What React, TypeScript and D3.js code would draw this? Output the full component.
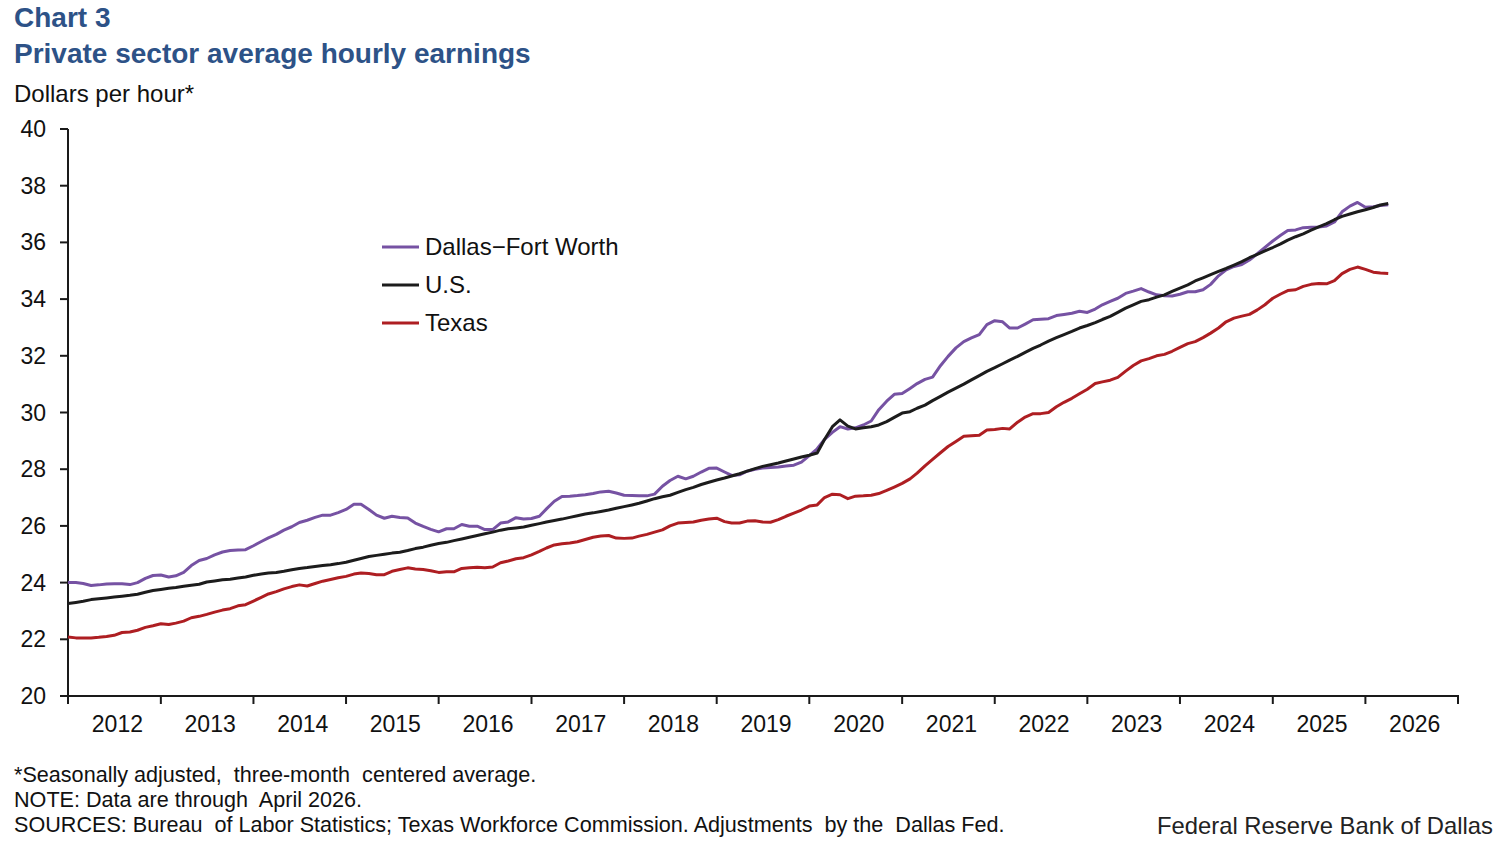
import React from 'react';
import * as d3 from 'd3';

// Monthly observations, January 2012 through April 2026
const FIRST_MONTH = new Date(2012, 0, 1);
const LAST_MONTH = new Date(2026, 3, 1);
const months = d3.timeMonth.range(FIRST_MONTH, d3.timeMonth.offset(LAST_MONTH, 1));

const dfw = [
  24.0, 24.0, 23.97, 23.9, 23.92, 23.95, 23.96, 23.96, 23.93, 24.0, 24.15, 24.25,
  24.27, 24.2, 24.24, 24.36, 24.6, 24.78, 24.85, 24.98, 25.08, 25.13, 25.15, 25.16,
  25.3, 25.45, 25.58, 25.7, 25.85, 25.97, 26.12, 26.2, 26.3, 26.38, 26.38, 26.47,
  26.58, 26.76, 26.76, 26.58, 26.38, 26.27, 26.34, 26.3, 26.28, 26.1, 25.98, 25.88,
  25.79, 25.9, 25.9, 26.05, 25.99, 25.99, 25.87, 25.87, 26.1, 26.14, 26.29, 26.24,
  26.26, 26.34, 26.6, 26.87, 27.04, 27.05, 27.07, 27.1, 27.14, 27.2, 27.22, 27.16,
  27.08, 27.07, 27.06, 27.06, 27.12, 27.4, 27.6, 27.75, 27.66, 27.75, 27.9, 28.03,
  28.04, 27.9, 27.78, 27.8, 27.93, 28.0, 28.04, 28.06, 28.08, 28.11, 28.14, 28.25,
  28.48, 28.72, 29.05, 29.3, 29.5, 29.42, 29.46, 29.56, 29.7, 30.1, 30.4, 30.64,
  30.67, 30.85, 31.02, 31.17, 31.25, 31.65, 31.98, 32.28, 32.5, 32.63, 32.75, 33.1,
  33.24, 33.2, 32.98, 32.98, 33.12, 33.27, 33.29, 33.31, 33.42, 33.46, 33.5, 33.57,
  33.53, 33.65, 33.8, 33.92, 34.03, 34.2, 34.28, 34.37, 34.25, 34.15, 34.12, 34.11,
  34.17, 34.26, 34.26, 34.33, 34.52, 34.82, 35.03, 35.15, 35.22, 35.38, 35.6, 35.82,
  36.05, 36.25, 36.42, 36.44, 36.52, 36.53, 36.54, 36.58, 36.72, 37.08, 37.28, 37.41,
  37.24, 37.26, 37.3, 37.33,
];

const us = [
  23.26, 23.3, 23.34, 23.4, 23.43, 23.46, 23.49, 23.52, 23.55, 23.59, 23.66, 23.72,
  23.76, 23.8, 23.83, 23.87, 23.91, 23.94, 24.02, 24.06, 24.1, 24.12, 24.16, 24.2,
  24.26, 24.3, 24.34, 24.36, 24.4, 24.45, 24.5, 24.53, 24.57, 24.6, 24.63, 24.67,
  24.72, 24.79, 24.85, 24.92, 24.96, 25.0, 25.04, 25.07, 25.13, 25.2, 25.25, 25.32,
  25.38, 25.42, 25.48, 25.54, 25.6, 25.66, 25.72, 25.78, 25.85, 25.9, 25.93, 25.96,
  26.02, 26.08, 26.14, 26.19, 26.24, 26.3, 26.36, 26.42, 26.46, 26.51, 26.56, 26.62,
  26.68, 26.74, 26.8, 26.88, 26.96, 27.03, 27.08, 27.18, 27.28, 27.36, 27.46, 27.54,
  27.62, 27.69, 27.76, 27.84, 27.93, 28.02, 28.1, 28.16, 28.22, 28.29, 28.36, 28.43,
  28.49, 28.57, 29.05, 29.5, 29.74, 29.52, 29.42, 29.46, 29.5, 29.56, 29.68, 29.83,
  29.98, 30.03, 30.15, 30.26, 30.42, 30.57, 30.72, 30.86, 31.0, 31.15, 31.3, 31.45,
  31.58, 31.72, 31.85, 31.98, 32.12, 32.26, 32.38, 32.52, 32.64, 32.75, 32.86, 32.98,
  33.07, 33.17, 33.28, 33.39, 33.53, 33.68, 33.8, 33.92, 33.98, 34.07, 34.15, 34.27,
  34.39, 34.5, 34.64, 34.75, 34.86, 34.98, 35.08, 35.2, 35.32, 35.46, 35.58, 35.7,
  35.82, 35.95, 36.08, 36.2, 36.3, 36.43, 36.55, 36.66, 36.8, 36.92, 37.0, 37.08,
  37.15, 37.23, 37.32, 37.37,
];

const texas = [
  22.08, 22.05, 22.05, 22.05, 22.07, 22.1, 22.14, 22.24, 22.26, 22.32, 22.42, 22.48,
  22.55, 22.52, 22.57, 22.64, 22.76, 22.81, 22.88, 22.96, 23.03, 23.08, 23.18, 23.22,
  23.35, 23.48, 23.6, 23.68, 23.78, 23.86, 23.92, 23.88, 23.97, 24.05, 24.11, 24.17,
  24.22, 24.3, 24.34, 24.32, 24.28, 24.28, 24.4, 24.46, 24.52, 24.48, 24.46, 24.42,
  24.36, 24.38, 24.38, 24.5, 24.52, 24.54, 24.52, 24.55, 24.7, 24.76, 24.84, 24.88,
  24.98, 25.1, 25.22, 25.33, 25.37, 25.4, 25.44, 25.52, 25.6, 25.64, 25.66, 25.57,
  25.56, 25.57, 25.64, 25.7, 25.78, 25.86, 26.0, 26.1, 26.12, 26.14, 26.2, 26.24,
  26.27, 26.15, 26.1, 26.1, 26.17, 26.18, 26.14, 26.13, 26.22, 26.34, 26.45, 26.56,
  26.7, 26.74, 27.0, 27.12, 27.1, 26.96, 27.05, 27.06, 27.08, 27.14, 27.25, 27.37,
  27.5, 27.66, 27.86, 28.12, 28.35, 28.58, 28.8, 28.98, 29.16, 29.18, 29.2, 29.38,
  29.4, 29.44, 29.42, 29.66, 29.84, 29.96, 29.96, 30.0, 30.2, 30.36, 30.5, 30.66,
  30.82, 31.02, 31.08, 31.14, 31.24, 31.46, 31.66, 31.82, 31.9, 32.0, 32.05, 32.16,
  32.3, 32.43, 32.5, 32.64, 32.8, 32.98, 33.2, 33.33, 33.4, 33.46, 33.62, 33.8,
  34.03, 34.18, 34.3, 34.33, 34.45, 34.52, 34.55, 34.54, 34.65, 34.9, 35.05, 35.13,
  35.05, 34.95, 34.92, 34.9,
];

const yTicks = [20, 22, 24, 26, 28, 30, 32, 34, 36, 38, 40];
const yearLabels = ['2012', '2013', '2014', '2015', '2016', '2017', '2018', '2019', '2020', '2021', '2022', '2023', '2024', '2025', '2026'];

const seriesList = [
  { name: 'Dallas\u2212Fort Worth', values: dfw, color: '#7652A3' },
  { name: 'U.S.', values: us, color: '#1C1C1C' },
  { name: 'Texas', values: texas, color: '#AE1E22' },
];

const footnotes = [
  '*Seasonally adjusted,  three-month  centered average.',
  'NOTE: Data are through  April 2026.',
  'SOURCES: Bureau  of Labor Statistics; Texas Workforce Commission. Adjustments  by the  Dallas Fed.',
];

const W = 1495;
const H = 847;
const FONT = '"Liberation Sans", Arial, sans-serif';
const TITLE_COLOR = '#2D5287';

export default function App() {
  const x = d3.scaleTime().domain([new Date(2012, 0, 1), new Date(2027, 0, 1)]).range([68, 1458]);
  const y = d3.scaleLinear().domain([20, 40]).range([696, 129]);

  const line = d3.line<number>()
    .x((_, i) => x(months[i]))
    .y(d => y(d));

  const yearStarts = d3.range(2012, 2028).map(yr => new Date(yr, 0, 1));

  return (
    <svg width={W} height={H} style={{ position: 'absolute', left: 0, top: 0, background: '#fff' }} fontFamily={FONT}>
      <text x={14} y={27} fontSize={28} fontWeight="bold" fill={TITLE_COLOR}>Chart 3</text>
      <text x={14} y={63} fontSize={28} fontWeight="bold" fill={TITLE_COLOR}>Private sector average hourly earnings</text>
      <text x={14} y={102} fontSize={24} fill="#111">Dollars per hour*</text>

      {/* y axis */}
      <line x1={68} x2={68} y1={y(40)} y2={y(20)} stroke="#1a1a1a" strokeWidth={2} />
      {yTicks.map(t => (
        <g key={t}>
          <line x1={60} x2={68} y1={y(t)} y2={y(t)} stroke="#1a1a1a" strokeWidth={2} />
          <text x={46} y={y(t) + 8} fontSize={23} textAnchor="end" fill="#111">{t}</text>
        </g>
      ))}

      {/* x axis */}
      <line x1={67} x2={1459} y1={y(20)} y2={y(20)} stroke="#1a1a1a" strokeWidth={2} />
      {yearStarts.map(d => (
        <line key={d.getFullYear()} x1={x(d)} x2={x(d)} y1={696} y2={704} stroke="#1a1a1a" strokeWidth={2} />
      ))}
      {yearLabels.map((lbl, i) => {
        const mid = (x(yearStarts[i]) + x(yearStarts[i + 1])) / 2 + 3;
        return <text key={lbl} x={mid} y={732} fontSize={23} textAnchor="middle" fill="#111">{lbl}</text>;
      })}

      {/* series */}
      {seriesList.map(s => (
        <path key={s.name} d={line(s.values) ?? ''} fill="none" stroke={s.color} strokeWidth={3} strokeLinejoin="round" />
      ))}

      {/* legend */}
      {seriesList.map((s, i) => {
        const ly = 247 + i * 38;
        return (
          <g key={s.name}>
            <line x1={382} x2={419} y1={ly} y2={ly} stroke={s.color} strokeWidth={3} />
            <text x={425} y={ly + 8} fontSize={24} fill="#111">{s.name}</text>
          </g>
        );
      })}

      {footnotes.map((f, i) => (
        <text key={i} x={14} y={782 + i * 25} fontSize={21.6} fill="#111" style={{ whiteSpace: 'pre' }}>{f}</text>
      ))}
      <text x={1493} y={834} fontSize={23.8} textAnchor="end" fill="#222">Federal Reserve Bank of Dallas</text>
    </svg>
  );
}
